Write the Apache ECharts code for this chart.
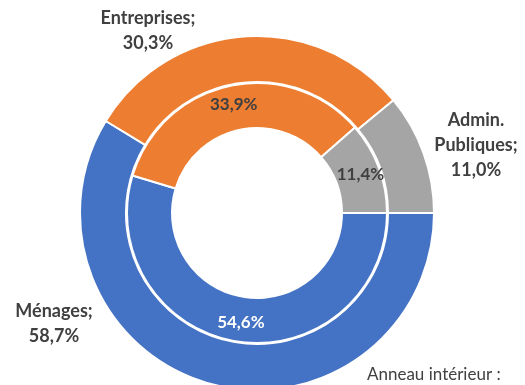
<!DOCTYPE html>
<html><head><meta charset="utf-8">
<script src="https://cdn.jsdelivr.net/npm/echarts@6/dist/echarts.min.js"></script>
<style>html,body{margin:0;padding:0;background:#fff}#c{width:525px;height:385px}</style>
</head><body><div id="c"></div>
<script>
const categories = ['Ménages', 'Entreprises', 'Admin.\nPubliques'];
const outerValues = [58.7, 30.3, 11.0];
const innerValues = [54.6, 33.9, 11.4];
const colors = ['#4472C4', '#ED7D31', '#A5A5A5'];
const note = 'Anneau intérieur :';

const fmt = v => v.toFixed(1).replace('.', ',') + '%';
const FONT = 'Lato';
const center = [257, 213];
const outerLabelPos = [[54, 324], [148, 31], [476, 145]];

const chart = echarts.init(document.getElementById('c'));
chart.setOption({
  animation: false,
  backgroundColor: '#fff',
  color: colors,
  series: [
    {
      type: 'pie', center: center, radius: [131, 177], startAngle: 0, clockwise: true,
      itemStyle: { borderColor: '#fff', borderWidth: 2 },
      label: {
        show: true, position: 'outside', fontFamily: FONT, fontWeight: 'bold', fontSize: 18,
        color: '#404040', lineHeight: 25, align: 'center', overflow: 'none', width: 200,
        formatter: p => p.name + ';\n' + fmt(p.value)
      },
      labelLine: { show: false },
      labelLayout: p => ({ x: outerLabelPos[p.dataIndex][0], y: outerLabelPos[p.dataIndex][1], align: 'center', verticalAlign: 'middle' }),
      data: categories.map((n, i) => ({ name: n, value: outerValues[i] }))
    },
    {
      type: 'pie', center: center, radius: [85, 130], startAngle: 0, clockwise: true,
      itemStyle: { borderColor: '#fff', borderWidth: 2 },
      label: {
        show: true, position: 'inside', fontFamily: FONT, fontWeight: 'bold', fontSize: 17,
        color: '#404040', formatter: p => fmt(p.value)
      },
      labelLine: { show: false },
      data: categories.map((n, i) => ({ name: n, value: innerValues[i],
        label: i === 0 ? { color: '#fff' } : undefined }))
    }
  ],
  graphic: [{
    type: 'text', left: 367, top: 366,
    style: { text: note, fontFamily: FONT, fontSize: 17, fill: '#404040' }
  }]
});
</script></body></html>
